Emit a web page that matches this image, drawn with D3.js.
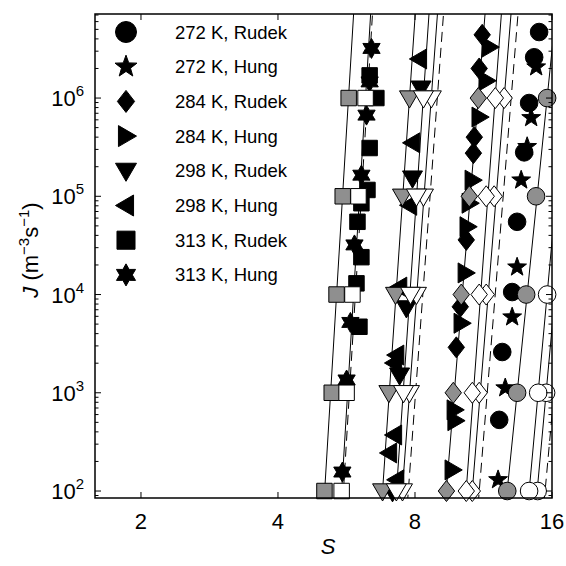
<!DOCTYPE html>
<html>
<head>
<meta charset="utf-8">
<script src="https://cdn.jsdelivr.net/npm/d3@7"></script>
<style>
  html, body { margin: 0; padding: 0; background: #fff; }
  svg { display: block; font-family: "Liberation Sans", Arial, Helvetica, sans-serif; }
</style>
</head>
<body>
<svg id="chart" width="566" height="566"></svg>
<script>
// ---- measured nucleation rates: [S, J] ----
const rudek272 = [[14.99,4.7e6],[14.62,2.6e6],[14.25,8.9e5],[13.90,2.8e5],[13.41,5.5e4],[13.08,1.06e4],[12.44,2600],[12.25,530]];
const hung272  = [[14.77,2.07e6],[14.40,6.3e5],[14.11,3.2e5],[13.69,1.46e5],[13.41,1.9e4],[13.08,5.9e3],[12.63,1120],[12.18,130]];
const rudek284 = [[11.24,4.4e6],[11.07,2.0e6],[10.80,4.0e5],[10.75,2.75e5],[10.37,3.6e4],[10.06,7.5e3],[9.86,2.9e3]];
const hung284  = [[11.65,3.3e6],[11.47,1.5e6],[11.07,6.4e5],[10.69,1.46e5],[10.53,8.5e4],[10.42,4.9e4],[10.32,1.66e4],[10.11,5.1e3],[9.76,670],[9.80,520],[9.66,164]];
const rudek298 = [[8.25,1.26e6],[7.90,1.53e5],[7.66,7.3e3],[7.40,1510],[7.14,98]];
const hung298  = [[8.18,2.5e6],[7.90,3.5e5],[7.78,8.1e4],[7.40,1.19e4],[7.29,2420],[7.21,2010],[7.21,372],[7.03,244],[7.29,130]];
const rudek313 = [[6.36,1.7e6],[6.58,1.0e6],[6.36,3.1e5],[6.29,1.16e5],[6.10,8.5e4],[5.98,5.5e4],[6.10,2.4e4],[5.95,1.3e4],[6.04,4.7e3]];
const hung313  = [[6.42,3.2e6],[6.36,1.46e6],[6.26,6.7e5],[6.10,1.64e5],[5.89,3.2e4],[5.77,5.2e3],[5.66,1350],[5.54,156]];

// ---- model predictions: S at each rate in decadeJ ----
const decadeJ = [1e2, 1e3, 1e4, 1e5, 1e6];
const grayCircleS   = [12.76, 13.41, 14.04, 14.76, 15.61];
const whiteCircleS  = [14.25, 14.92, 15.61, 16.34, 17.10];
const white2CircleS = [14.88, 15.53, 16.30, 17.00, 17.80];
const grayDiamondS   = [9.38, 9.71, 10.11, 10.53, 11.02];
const whiteDiamondS  = [10.37, 10.69, 11.07, 11.47, 12.01];
const white2DiamondS = [10.69, 11.07, 11.47, 11.94, 12.56];
const grayTriS   = [6.79, 7.01, 7.25, 7.51, 7.78];
const whiteTriS  = [7.28, 7.55, 7.82, 8.06, 8.35];
const white2TriS = [7.51, 7.78, 8.06, 8.35, 8.69];
const graySquareS  = [5.06, 5.25, 5.38, 5.55, 5.72];
const whiteSquareS = [5.52, 5.66, 5.83, 6.01, 6.23];

// ---- theory curves: S at the two ends of lineJ ----
const lineJ = [50, 1e7];
const solidCurves = [
  [5.02, 5.89], [5.47, 6.42],
  [6.72, 8.05], [7.21, 8.63], [7.42, 9.01],
  [9.26, 11.47], [10.25, 12.45], [10.56, 13.08],
  [12.56, 16.42], [14.06, 17.89], [14.64, 18.62]
];
const dashedCurves = [
  [5.52, 6.48], [7.65, 9.29], [10.94, 13.55], [15.24, 19.39]
];

// ---- axes ----
const xTicks = [2, 4, 8, 16];
const yTicks = [1e2, 1e3, 1e4, 1e5, 1e6];
const xDomain = [1.585, 16];
const yDomain = [84.9, 7.17e6];

const legendLabels = ["272 K, Rudek", "272 K, Hung", "284 K, Rudek", "284 K, Hung",
                      "298 K, Rudek", "298 K, Hung", "313 K, Rudek", "313 K, Hung"];
const legendShapes = ["circle", "star", "diamond", "triRight", "triDown", "triLeft", "square", "hexagram"];

const L = 95, R = 552, T = 14, B = 498;
const svg = d3.select("#chart");
const x = d3.scaleLog().base(2).domain(xDomain).range([L, R]);
const y = d3.scaleLog().domain(yDomain).range([B, T]);

// marker outlines, r = outer radius in px
function shapePath(type, r) {
  const p = d3.path();
  const poly = pts => { pts.forEach((q, i) => i ? p.lineTo(q[0], q[1]) : p.moveTo(q[0], q[1])); p.closePath(); };
  const star = (n, ro, ri, rot) => {
    const pts = [];
    for (let i = 0; i < 2 * n; i++) {
      const a = rot + i * Math.PI / n;
      const rr = i % 2 ? ri : ro;
      pts.push([rr * Math.cos(a), rr * Math.sin(a)]);
    }
    poly(pts);
  };
  switch (type) {
    case "circle": p.arc(0, 0, r, 0, 2 * Math.PI); p.closePath(); break;
    case "square": { const h = r * 0.86; poly([[-h,-h],[h,-h],[h,h],[-h,h]]); break; }
    case "diamond": poly([[0,-r*1.05],[r*0.82,0],[0,r*1.05],[-r*0.82,0]]); break;
    case "triDown": poly([[-r,-r*0.72],[r,-r*0.72],[0,r*1.0]]); break;
    case "triRight": poly([[-r*0.72,-r],[r,0],[-r*0.72,r]]); break;
    case "triLeft": poly([[r*0.72,-r],[-r,0],[r*0.72,r]]); break;
    case "star": star(5, r * 1.1, r * 0.45, -Math.PI / 2); break;
    case "hexagram": star(6, r * 1.05, r * 0.6, -Math.PI / 2); break;
  }
  return p.toString();
}

const inDomain = d => d[0] >= xDomain[0] && d[0] <= xDomain[1] && d[1] >= yDomain[0] && d[1] <= yDomain[1];

// clip for curves
svg.append("defs").append("clipPath").attr("id", "plotClip")
  .append("rect").attr("x", L).attr("y", T).attr("width", R - L).attr("height", B - T);

// theory curves
const curveLayer = svg.append("g").attr("clip-path", "url(#plotClip)");
const lineGen = d3.line().x(d => x(d[0])).y(d => y(d[1]));
solidCurves.forEach(c => {
  curveLayer.append("path").attr("d", lineGen(c.map((s, i) => [s, lineJ[i]])))
    .attr("fill", "none").attr("stroke", "#000").attr("stroke-width", 1);
});
dashedCurves.forEach(c => {
  curveLayer.append("path").attr("d", lineGen(c.map((s, i) => [s, lineJ[i]])))
    .attr("fill", "none").attr("stroke", "#000").attr("stroke-width", 1)
    .attr("stroke-dasharray", "10,6");
});

// measured points
function drawPoints(data, shape, r, fill) {
  svg.append("g").selectAll("path").data(data.filter(inDomain)).join("path")
    .attr("transform", d => `translate(${x(d[0])},${y(d[1])})`)
    .attr("d", shapePath(shape, r))
    .attr("fill", fill).attr("stroke", "#000").attr("stroke-width", 1);
}
drawPoints(rudek313, "square", 9, "#000");
drawPoints(hung313, "hexagram", 9.5, "#000");
drawPoints(rudek298, "triDown", 10, "#000");
drawPoints(hung298, "triLeft", 10, "#000");
drawPoints(rudek284, "diamond", 10, "#000");
drawPoints(hung284, "triRight", 10, "#000");
drawPoints(rudek272, "circle", 8.8, "#000");
drawPoints(hung272, "star", 9, "#000");

// model points
const GRAY = "#8f8f8f";
const atDecades = s => s.map((v, i) => [v, decadeJ[i]]);
drawPoints(atDecades(graySquareS), "square", 9, GRAY);
drawPoints(atDecades(whiteSquareS), "square", 9, "#fff");
drawPoints(atDecades(grayTriS), "triDown", 10, GRAY);
drawPoints(atDecades(white2TriS), "triDown", 10, "#fff");
drawPoints(atDecades(whiteTriS), "triDown", 10, "#fff");
drawPoints(atDecades(grayDiamondS), "diamond", 10, GRAY);
drawPoints(atDecades(white2DiamondS), "diamond", 10, "#fff");
drawPoints(atDecades(whiteDiamondS), "diamond", 10, "#fff");
drawPoints(atDecades(white2CircleS), "circle", 8.8, "#fff");
drawPoints(atDecades(whiteCircleS), "circle", 8.8, "#fff");
drawPoints(atDecades(grayCircleS), "circle", 8.8, GRAY);

// frame
svg.append("rect").attr("x", L).attr("y", T).attr("width", R - L).attr("height", B - T)
  .attr("fill", "none").attr("stroke", "#000").attr("stroke-width", 1.5);

// ticks (inward, all four sides)
const tickG = svg.append("g").attr("stroke", "#000").attr("stroke-width", 1);
xTicks.forEach(t => {
  tickG.append("line").attr("x1", x(t)).attr("x2", x(t)).attr("y1", B).attr("y2", B - 6);
  tickG.append("line").attr("x1", x(t)).attr("x2", x(t)).attr("y1", T).attr("y2", T + 6);
});
const yMinor = [];
for (let e = 1; e <= 6; e++) for (let m = 1; m <= 9; m++) {
  const v = m * Math.pow(10, e);
  if (v >= yDomain[0] && v <= yDomain[1]) yMinor.push([v, m === 1]);
}
yMinor.forEach(([v, major]) => {
  const len = major ? 6 : 3.5;
  tickG.append("line").attr("x1", L).attr("x2", L + len).attr("y1", y(v)).attr("y2", y(v));
  tickG.append("line").attr("x1", R).attr("x2", R - len).attr("y1", y(v)).attr("y2", y(v));
});

// tick labels
svg.append("g").selectAll("text").data(xTicks).join("text")
  .attr("x", d => x(d)).attr("y", 529).attr("text-anchor", "middle")
  .attr("font-size", 22).text(d => d);
const yl = svg.append("g").selectAll("text").data(yTicks).join("text")
  .attr("x", 84).attr("y", d => y(d) + 8).attr("text-anchor", "end").attr("font-size", 22);
yl.append("tspan").text("10");
yl.append("tspan").attr("dy", -10).attr("font-size", 15).text(d => Math.round(Math.log10(d)));

// axis titles
svg.append("text").attr("x", 328).attr("y", 554).attr("text-anchor", "middle")
  .attr("font-size", 22).attr("font-style", "italic").text("S");
const yt = svg.append("text").attr("transform", `translate(38,${(T + B) / 2 - 6}) rotate(-90)`)
  .attr("text-anchor", "middle").attr("font-size", 22);
yt.append("tspan").attr("font-style", "italic").text("J");
yt.append("tspan").text(" (m");
yt.append("tspan").attr("dy", -9).attr("font-size", 15).text("\u22123");
yt.append("tspan").attr("dy", 9).text("s");
yt.append("tspan").attr("dy", -9).attr("font-size", 15).text("\u22121");
yt.append("tspan").attr("dy", 9).text(")");

// legend
const lg = svg.append("g");
legendLabels.forEach((lab, i) => {
  const cy = 32 + i * 34.7;
  lg.append("path").attr("transform", `translate(126,${cy})`)
    .attr("d", shapePath(legendShapes[i], 10.5)).attr("fill", "#000").attr("stroke", "#000");
  lg.append("text").attr("x", 175).attr("y", cy + 6.5).attr("font-size", 18.5).text(lab);
});
</script>
</body>
</html>
